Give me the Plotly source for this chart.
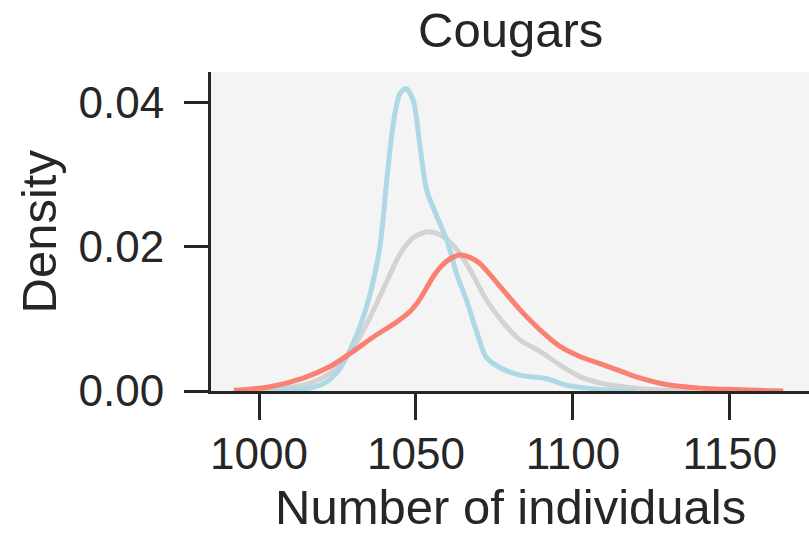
import plotly.graph_objects as go

# KDE curves (x = number of individuals, y = density)
blue_x = [1004, 1010, 1016, 1019.4, 1022, 1024.7, 1027, 1029, 1032.2, 1035.4, 1038.5, 1040.7, 1042.8,
          1044.9, 1046.8, 1049.1, 1051.3, 1053.4, 1056.6, 1059.8, 1063, 1066.1, 1069.5, 1072.2, 1076.5,
          1083.1, 1091.6, 1098, 1104.4, 1112, 1120]
blue_y = [0.0, 0.0002, 0.0004, 0.0008, 0.0014, 0.0025, 0.0040, 0.0057, 0.0090, 0.0135, 0.0200, 0.0293, 0.0372,
          0.0413, 0.0420, 0.0404, 0.0339, 0.0279, 0.0243, 0.0210, 0.0162, 0.0126, 0.0080, 0.0048, 0.0033,
          0.0022, 0.0017, 0.0008, 0.0004, 0.0001, 0.0]

gray_x = [1000, 1005, 1010, 1016.2, 1020.5, 1024.7, 1030, 1034.3, 1037.5, 1040.7, 1044.9, 1049.1, 1053.9,
          1058, 1061.9, 1067, 1072.5, 1077.8, 1083.1, 1089.5, 1095.9, 1102.2, 1110.7, 1120, 1130, 1140]
gray_y = [0.0, 0.0002, 0.0005, 0.0011, 0.0019, 0.0032, 0.0060, 0.0093, 0.0122, 0.0152, 0.0190, 0.0213, 0.0221,
          0.0216, 0.0202, 0.0170, 0.0126, 0.0095, 0.0071, 0.0055, 0.0036, 0.0020, 0.0009, 0.0004, 0.0001, 0.0]

red_x = [992, 1003.5, 1014.1, 1022.6, 1030, 1036.4, 1043.9, 1048, 1051.3, 1055.5, 1058, 1061, 1064, 1067,
         1070.4, 1076.8, 1083.1, 1089.5, 1095.9, 1102.2, 1108.6, 1115, 1119.2, 1129.8, 1140.4, 1151, 1167]
red_y = [0.0001, 0.0006, 0.0018, 0.0034, 0.0055, 0.0075, 0.0096, 0.0110, 0.0128, 0.0159, 0.0173, 0.0184, 0.0189, 0.0186,
         0.0177, 0.0145, 0.0113, 0.0085, 0.0062, 0.0048, 0.0038, 0.0028, 0.0021, 0.0009, 0.0004, 0.0002, 0.0]

x_ticks = [1000, 1050, 1100, 1150]
y_ticks = [0.0, 0.02, 0.04]
y_tick_labels = ["0.00", "0.02", "0.04"]

INK = "#262626"
FONT = "Liberation Sans, Arial, sans-serif"
W, H = 809, 534
L, R, T, B = 211, 0, 72, 143

fig = go.Figure()
for xs, ys, col in [(gray_x, gray_y, "#d3d3d3"), (blue_x, blue_y, "#add8e6"), (red_x, red_y, "#fa8072")]:
    fig.add_trace(go.Scatter(x=xs, y=ys, mode="lines",
                             line=dict(color=col, width=5, shape="spline", smoothing=0.8),
                             showlegend=False, hoverinfo="skip"))

fig.update_layout(
    width=W, height=H,
    margin=dict(l=L, r=R, t=T, b=B),
    paper_bgcolor="white", plot_bgcolor="#f4f4f4",
    font=dict(family=FONT, color=INK),
)
fig.update_xaxes(range=[984.7, 1175.2], tickvals=x_ticks, showgrid=False, zeroline=False,
                 showline=True, linecolor=INK, linewidth=3, automargin=False,
                 ticks="outside", ticklen=26, tickwidth=3, tickcolor=INK,
                 ticklabelstandoff=-4,
                 tickfont=dict(size=44, color=INK))
fig.update_yaxes(range=[0, 0.0443], tickvals=y_ticks, ticktext=y_tick_labels, showgrid=False, zeroline=False,
                 showline=True, linecolor=INK, linewidth=3, automargin=False,
                 ticks="outside", ticklen=24, tickwidth=3, tickcolor=INK,
                 ticklabelstandoff=11,
                 tickfont=dict(size=44, color=INK))

ph = H - T - B
pw = W - L - R
fig.add_annotation(text="Cougars", xref="paper", yref="paper", x=0.5, xanchor="center",
                   y=1 + (T - 30) / ph, yanchor="middle", showarrow=False,
                   font=dict(size=49, color=INK))
fig.add_annotation(text="Number of individuals", xref="paper", yref="paper", x=0.5, xanchor="center",
                   y=-(507 - (H - B)) / ph, yanchor="middle", showarrow=False,
                   font=dict(size=49, color=INK))
fig.add_annotation(text="Density", xref="paper", yref="paper", x=-(L - 38) / pw, xanchor="center",
                   y=0.5, yanchor="middle", textangle=-90, showarrow=False,
                   font=dict(size=49, color=INK))

fig.write_html("out.html",
               config={"displayModeBar": False},
               post_script="document.body.style.margin='0';document.body.style.padding='0';"
                           "document.documentElement.style.overflow='hidden';")
